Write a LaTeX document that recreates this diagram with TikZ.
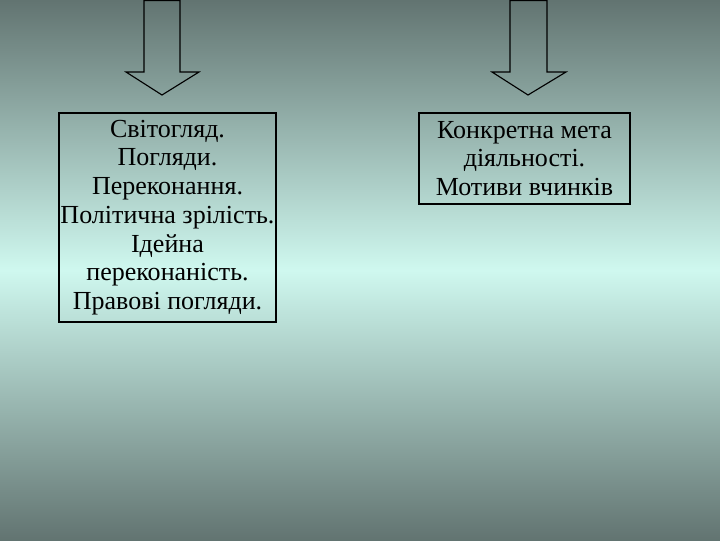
\documentclass[tikz,border=0pt]{standalone}
\usepackage{fontspec}
\setmainfont{Liberation Serif}
\definecolor{bgedge}{RGB}{98,116,113}
\definecolor{bgmid}{RGB}{207,248,239}
\tikzset{
  textbox/.style={draw=black,line width=1pt,inner sep=0pt,align=center,
    font=\fontsize{18.5}{20.4}\selectfont},
  downarrow/.style={draw=black,line width=0.8pt,line join=miter}
}

\begin{document}
\begin{tikzpicture}[x=0.025cm,y=-0.025cm]
\useasboundingbox (0,0) rectangle (720,540);
% background
\shade[top color=bgedge,bottom color=bgmid] (0,0) rectangle (720,270);
\shade[top color=bgmid,bottom color=bgedge] (0,270) rectangle (720,540);
% arrows
\draw[downarrow] (144,0.5) -- (144,72) -- (126,72) -- (162,95) -- (199,72) -- (180,72) -- (180,0.5) -- cycle;
\draw[downarrow] (510,0.5) -- (510,72) -- (492,72) -- (528,95) -- (566,72) -- (547,72) -- (547,0.5) -- cycle;
% boxes
\node[textbox,minimum width=5.425cm,minimum height=5.225cm] (views) at (167.5,217.5)
  {Світогляд.\\Погляди.\\Переконання.\\Політична зрілість.\\Ідейна\\переконаність.\\Правові погляди.};
\node[textbox,minimum width=5.275cm,minimum height=2.275cm] (goals) at (524.5,158.5)
  {Конкретна мета\\діяльності.\\Мотиви вчинків};
\end{tikzpicture}
\end{document}
